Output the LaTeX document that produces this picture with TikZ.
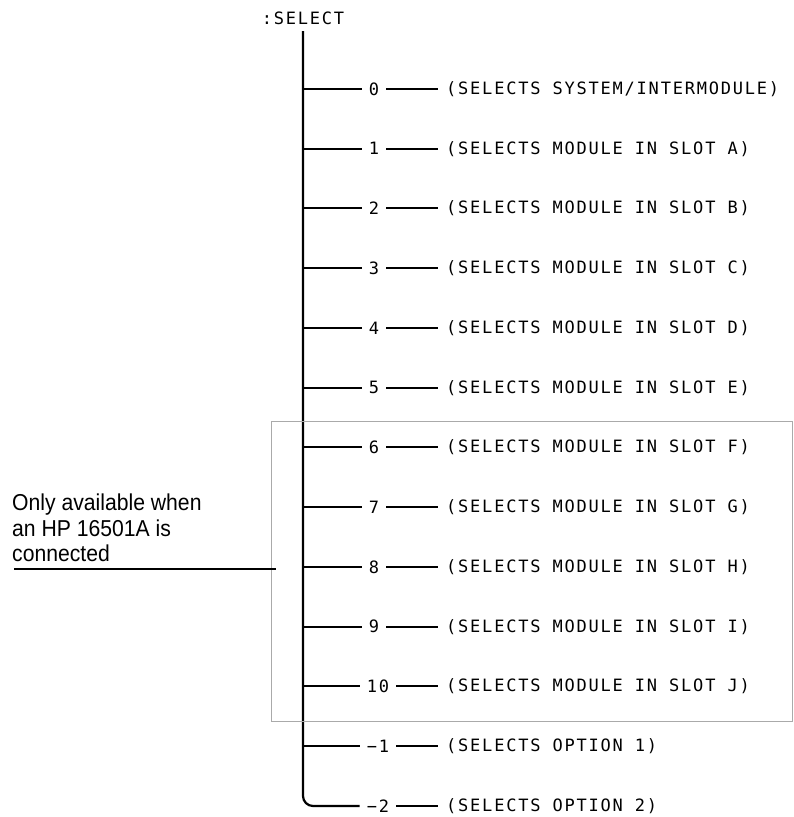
\documentclass[tikz,border=0pt]{standalone}
\usepackage{fontspec}
\newfontfamily\plotfont[LetterSpace=10.5]{DejaVu Sans Mono}
\newfontfamily\notefont[FakeStretch=0.92]{Liberation Sans}
\definecolor{boxgray}{RGB}{170,170,170}
\tikzset{
  plottext/.style = {font={\plotfont\fontsize{17}{18}\selectfont}, inner sep=0pt},
  cmdname/.style  = {plottext, inner xsep=0pt, inner ysep=6.5pt},
  numlbl/.style   = {plottext, inner xsep=7pt},
  desc/.style     = {plottext, anchor=west},
  trunk/.style    = {draw, line width=2.2pt, rounded corners=10pt},
  branch/.style   = {draw, line width=2pt},
  lead/.style     = {draw, line width=1.8pt},
  notebox/.style  = {draw=boxgray, line width=1pt},
  notetext/.style = {font={\notefont\fontsize{23}{25.5}\selectfont},
                     align=left, inner sep=0pt, anchor=north west},
  pointer/.style  = {draw, line width=1.6pt},
}

\begin{document}
\begin{tikzpicture}[x=1pt, y=-1pt]

  % ── page frame ──
  \useasboundingbox (0,0) rectangle (793,817);

  % ──────────────────────────────────────────────
  %  HEADER
  % ──────────────────────────────────────────────
  \node[cmdname] (sel) at (303, 18) {:SELECT};

  % ──────────────────────────────────────────────
  %  OPTION NUMBERS
  % ──────────────────────────────────────────────
  \node[numlbl] (n0)  at (374,  89.00) {0};
  \node[numlbl] (n1)  at (374, 148.75) {1};
  \node[numlbl] (n2)  at (374, 208.25) {2};
  \node[numlbl] (n3)  at (374, 268.25) {3};
  \node[numlbl] (n4)  at (374, 328.00) {4};
  \node[numlbl] (n5)  at (374, 387.75) {5};
  \node[numlbl] (n6)  at (374, 447.25) {6};
  \node[numlbl] (n7)  at (374, 507.25) {7};
  \node[numlbl] (n8)  at (374, 567.00) {8};
  \node[numlbl] (n9)  at (374, 626.75) {9};
  \node[numlbl] (n10) at (378, 686.25) {10};
  \node[numlbl] (nm1) at (378, 746.25) {−1};
  \node[numlbl] (nm2) at (378, 806.00) {−2};

  % ──────────────────────────────────────────────
  %  DESCRIPTIONS
  % ──────────────────────────────────────────────
  \node[desc] (d0)  at (446,  89.00) {(SELECTS SYSTEM/INTERMODULE)};
  \node[desc] (d1)  at (446, 148.75) {(SELECTS MODULE IN SLOT A)};
  \node[desc] (d2)  at (446, 208.25) {(SELECTS MODULE IN SLOT B)};
  \node[desc] (d3)  at (446, 268.25) {(SELECTS MODULE IN SLOT C)};
  \node[desc] (d4)  at (446, 328.00) {(SELECTS MODULE IN SLOT D)};
  \node[desc] (d5)  at (446, 387.75) {(SELECTS MODULE IN SLOT E)};
  \node[desc] (d6)  at (446, 447.25) {(SELECTS MODULE IN SLOT F)};
  \node[desc] (d7)  at (446, 507.25) {(SELECTS MODULE IN SLOT G)};
  \node[desc] (d8)  at (446, 567.00) {(SELECTS MODULE IN SLOT H)};
  \node[desc] (d9)  at (446, 626.75) {(SELECTS MODULE IN SLOT I)};
  \node[desc] (d10) at (446, 686.25) {(SELECTS MODULE IN SLOT J)};
  \node[desc] (dm1) at (446, 746.25) {(SELECTS OPTION 1)};
  \node[desc] (dm2) at (446, 806.00) {(SELECTS OPTION 2)};

  % ══════════════════════════════════════════════
  %  TREE
  % ══════════════════════════════════════════════

  % trunk, bending into the last branch
  \draw[trunk] (sel.south) |- (nm2.west);

  % branches off the trunk
  \draw[branch] (sel.south |- n0)  -- (n0.west);
  \draw[branch] (sel.south |- n1)  -- (n1.west);
  \draw[branch] (sel.south |- n2)  -- (n2.west);
  \draw[branch] (sel.south |- n3)  -- (n3.west);
  \draw[branch] (sel.south |- n4)  -- (n4.west);
  \draw[branch] (sel.south |- n5)  -- (n5.west);
  \draw[branch] (sel.south |- n6)  -- (n6.west);
  \draw[branch] (sel.south |- n7)  -- (n7.west);
  \draw[branch] (sel.south |- n8)  -- (n8.west);
  \draw[branch] (sel.south |- n9)  -- (n9.west);
  \draw[branch] (sel.south |- n10) -- (n10.west);
  \draw[branch] (sel.south |- nm1) -- (nm1.west);

  % leads from number to description
  \draw[lead] (n0.east)  -- ([xshift=-8pt]d0.west);
  \draw[lead] (n1.east)  -- ([xshift=-8pt]d1.west);
  \draw[lead] (n2.east)  -- ([xshift=-8pt]d2.west);
  \draw[lead] (n3.east)  -- ([xshift=-8pt]d3.west);
  \draw[lead] (n4.east)  -- ([xshift=-8pt]d4.west);
  \draw[lead] (n5.east)  -- ([xshift=-8pt]d5.west);
  \draw[lead] (n6.east)  -- ([xshift=-8pt]d6.west);
  \draw[lead] (n7.east)  -- ([xshift=-8pt]d7.west);
  \draw[lead] (n8.east)  -- ([xshift=-8pt]d8.west);
  \draw[lead] (n9.east)  -- ([xshift=-8pt]d9.west);
  \draw[lead] (n10.east) -- ([xshift=-8pt]d10.west);
  \draw[lead] (nm1.east) -- ([xshift=-8pt]dm1.west);
  \draw[lead] (nm2.east) -- ([xshift=-8pt]dm2.west);

  % ══════════════════════════════════════════════
  %  HP 16501A NOTE
  % ══════════════════════════════════════════════
  \draw[notebox] (271, 421) rectangle (792, 721);

  \node[notetext] (note) at (12, 494)
    {Only available when\\an HP 16501A is\\connected};

  \coordinate (ulstart) at (14, 569);
  \coordinate (boxpt)   at (276, 569);
  \draw[pointer] (ulstart) -- (boxpt);

\end{tikzpicture}
\end{document}
